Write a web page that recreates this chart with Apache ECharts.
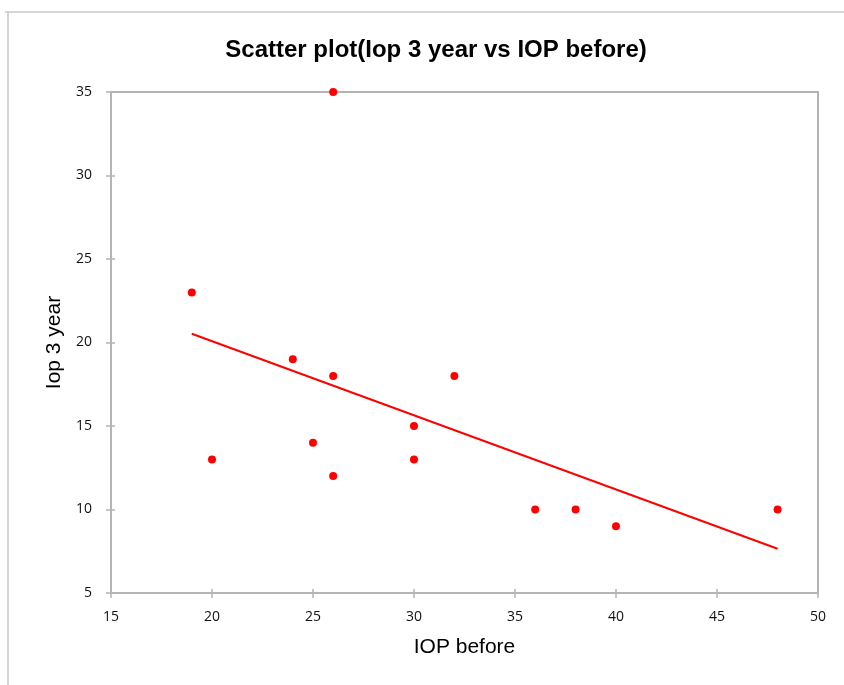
<!DOCTYPE html>
<html><head><meta charset="utf-8">
<script src="https://cdn.jsdelivr.net/npm/echarts@6/dist/echarts.min.js"></script>
<style>html,body{margin:0;padding:0;background:#fff}#c{width:844px;height:685px}</style>
</head><body><div id="c"></div>
<script>
const titleText = 'Scatter plot(Iop 3 year vs IOP before)';
const xName = 'IOP before';
const yName = 'Iop 3 year';
const iopBefore = [19, 20, 24, 25, 26, 26, 26, 30, 30, 32, 36, 38, 40, 48];
const iop3Year  = [23, 13, 19, 14, 35, 18, 12, 15, 13, 18, 10, 10, 9, 10];
const xTicks = [15, 20, 25, 30, 35, 40, 45, 50];
const yTicks = [5, 10, 15, 20, 25, 30, 35];

// linear regression trend line
const n = iopBefore.length;
const mx = iopBefore.reduce((a,b)=>a+b,0)/n;
const my = iop3Year.reduce((a,b)=>a+b,0)/n;
let sxy=0, sxx=0;
for (let i=0;i<n;i++){ sxy+=(iopBefore[i]-mx)*(iop3Year[i]-my); sxx+=(iopBefore[i]-mx)**2; }
const slope = sxy/sxx, icpt = my - slope*mx;
const xMin = Math.min(...iopBefore), xMax = Math.max(...iopBefore);
const trend = [[xMin, icpt+slope*xMin],[xMax, icpt+slope*xMax]];

const font = "'Liberation Sans',Arial,sans-serif";
const lblFont = "'Open Sans','Liberation Sans',sans-serif";
const axisCol = '#b4b4b4';
const chart = echarts.init(document.getElementById('c'));
const axCommon = {
  type:'value', splitLine:{show:false},
};
chart.setOption({
  animation:false,
  title:{text:titleText,left:431,textAlign:'center',top:33,
    textStyle:{fontFamily:font,fontWeight:'bold',fontSize:24,color:'#000'}},
  grid:{left:111,right:26,top:92,bottom:92,show:true,borderColor:axisCol,borderWidth:2,backgroundColor:'transparent'},
  xAxis:[
    Object.assign({},axCommon,{min:xTicks[0],max:xTicks[xTicks.length-1],interval:5,
      name:xName,nameLocation:'middle',nameGap:44,
      nameTextStyle:{fontFamily:font,fontSize:21,color:'#000'},
      axisLine:{lineStyle:{color:axisCol,width:2}},
      axisTick:{length:5,lineStyle:{color:axisCol,width:1.5}},
      axisLabel:{fontFamily:lblFont,fontSize:14,color:'#111',margin:17}}),
    Object.assign({},axCommon,{min:xTicks[0],max:xTicks[xTicks.length-1],interval:5,position:'bottom',offset:0,
      axisLine:{show:false},axisLabel:{show:false},
      axisTick:{inside:true,length:4,lineStyle:{color:axisCol,width:1.5}}})
  ],
  yAxis:[
    Object.assign({},axCommon,{min:yTicks[0],max:yTicks[yTicks.length-1],interval:5,
      name:yName,nameLocation:'middle',nameGap:46,nameRotate:90,
      nameTextStyle:{fontFamily:font,fontSize:21,color:'#000'},
      axisLine:{lineStyle:{color:axisCol,width:2}},
      axisTick:{length:5,lineStyle:{color:axisCol,width:1.5}},
      axisLabel:{fontFamily:lblFont,fontSize:14,color:'#111',margin:19}}),
    Object.assign({},axCommon,{min:yTicks[0],max:yTicks[yTicks.length-1],interval:5,position:'left',offset:0,
      axisLine:{show:false},axisLabel:{show:false},
      axisTick:{inside:true,length:4,lineStyle:{color:axisCol,width:1.5}}})
  ],
  graphic:[
    {type:'line',shape:{x1:8,y1:12,x2:8,y2:685},style:{stroke:'#c8c8c8',lineWidth:1.5}},
    {type:'line',shape:{x1:5,y1:12,x2:844,y2:12},style:{stroke:'#c8c8c8',lineWidth:1.5}}
  ],
  series:[
    {type:'line',data:trend,symbol:'none',lineStyle:{color:'#ff0000',width:2},z:2},
    {type:'scatter',data:iopBefore.map((x,i)=>[x,iop3Year[i]]),symbolSize:8,itemStyle:{color:'#ff0000',opacity:1},z:3}
  ]
});
</script></body></html>
